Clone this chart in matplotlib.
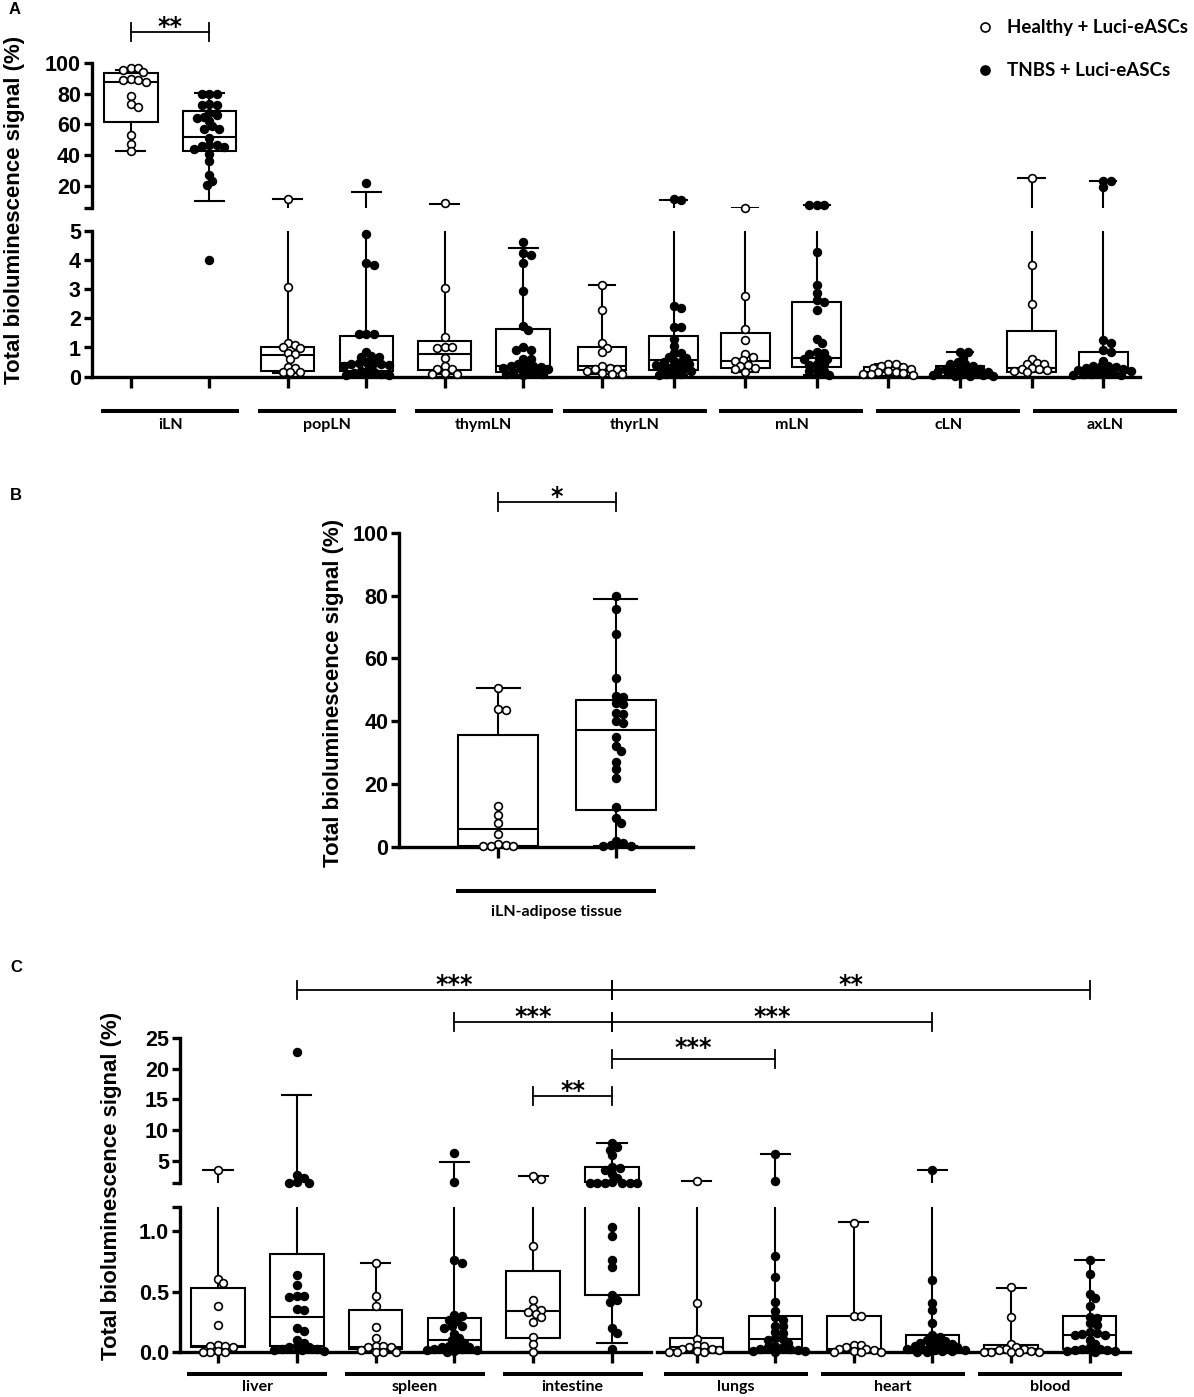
import numpy as np
import matplotlib
matplotlib.use('Agg')
import matplotlib.pyplot as plt
from matplotlib.lines import Line2D

plt.rcParams['font.family'] = ['Liberation Sans', 'DejaVu Sans']

# ---------------- data ----------------
# box stats: [whisker low, q1, median, q3, whisker high]
A_groups = ['iLN', 'popLN', 'thymLN', 'thyrLN', 'mLN', 'cLN', 'axLN']
A_healthy = [
    [96.7, 96.7, 95.5, 94.5, 90, 89, 89, 88, 78.7, 73.3, 71.3, 53.3, 47.4, 42.4],
    [11.3, 3.06, 1.14, 1.1, 1.0, 0.97, 0.8, 0.78, 0.6, 0.34, 0.3, 0.17, 0.15, 0.15],
    [8.5, 3.05, 1.35, 1.0, 1.0, 0.97, 0.65, 0.35, 0.28, 0.25, 0.12, 0.1, 0.1],
    [3.14, 2.28, 1.15, 0.98, 0.85, 0.35, 0.3, 0.27, 0.25, 0.2, 0.12, 0.1, 0.1],
    [5.6, 2.76, 1.65, 1.25, 0.77, 0.68, 0.58, 0.55, 0.4, 0.37, 0.3, 0.25, 0.15],
    [0.42, 0.42, 0.35, 0.33, 0.3, 0.25, 0.2, 0.15, 0.15, 0.12, 0.1, 0.08, 0.05],
    [24.8, 3.82, 2.49, 0.62, 0.46, 0.45, 0.42, 0.3, 0.28, 0.25, 0.22, 0.18, 0.15],
]
A_tnbs = [
    [80, 80, 80, 73.5, 73, 72.8, 67.4, 66, 64.8, 64, 62.6, 59, 57.2, 57, 51, 46.7,
     46.7, 46, 45, 44, 41, 36.3, 26.7, 22.8, 20.2, 4.0],
    [22, 4.9, 3.88, 3.82, 1.45, 1.45, 1.45, 0.86, 0.7, 0.68, 0.66, 0.5, 0.48, 0.46,
     0.45, 0.42, 0.4, 0.38, 0.3, 0.2, 0.15, 0.12, 0.1, 0.08, 0.06, 0.05],
    [4.6, 4.22, 4.17, 3.9, 2.95, 1.75, 1.6, 1.0, 0.92, 0.9, 0.62, 0.6, 0.45, 0.4,
     0.38, 0.35, 0.33, 0.3, 0.28, 0.25, 0.2, 0.15, 0.12, 0.1, 0.08, 0.05],
    [11, 10.5, 2.42, 2.34, 1.71, 1.71, 1.3, 1.05, 0.82, 0.8, 0.68, 0.65, 0.55, 0.52,
     0.5, 0.45, 0.4, 0.35, 0.3, 0.28, 0.25, 0.2, 0.15, 0.1, 0.08, 0.05],
    [7.4, 7.4, 7.3, 4.26, 3.14, 2.85, 2.62, 2.55, 2.3, 1.3, 1.17, 0.85, 0.82, 0.78,
     0.65, 0.62, 0.6, 0.45, 0.42, 0.4, 0.22, 0.2, 0.18, 0.05],
    [0.85, 0.83, 0.65, 0.5, 0.45, 0.42, 0.35, 0.3, 0.28, 0.25, 0.22, 0.2, 0.18, 0.15,
     0.12, 0.1, 0.08, 0.06, 0.05, 0.04, 0.03, 0.02],
    [23.3, 23.0, 19.0, 1.25, 1.15, 0.9, 0.85, 0.55, 0.38, 0.36, 0.35, 0.33, 0.3, 0.25,
     0.22, 0.2, 0.18, 0.15, 0.12, 0.1, 0.08, 0.06, 0.05],
]
A_healthy_box = [[42.4, 61.3, 87.6, 93.5, 95.7], [0.12, 0.21, 0.74, 1.03, 11.3],
                 [0.1, 0.23, 0.78, 1.23, 8.0], [0.1, 0.23, 0.35, 1.03, 3.14],
                 [0.15, 0.29, 0.54, 1.48, 5.6], [0.02, 0.03, 0.15, 0.34, 0.42],
                 [0.15, 0.17, 0.3, 1.56, 24.8]]
A_tnbs_box = [[9.8, 42.4, 51.7, 68.5, 80.4], [0.05, 0.2, 0.46, 1.4, 16.1],
              [0.05, 0.15, 0.38, 1.62, 4.41], [0.05, 0.23, 0.57, 1.4, 10.7],
              [0.05, 0.32, 0.63, 2.57, 7.4], [0.02, 0.03, 0.17, 0.37, 0.83],
              [0.05, 0.11, 0.23, 0.83, 23.3]]

B_group = 'iLN-adipose tissue'
B_healthy = [50.5, 43.7, 43.5, 13.1, 10.1, 7.4, 3.9, 0.8, 0.5, 0.3, 0.2, 0.1]
B_tnbs = [80.0, 75.7, 67.7, 53.6, 48.1, 47.8, 45.9, 45.6, 42.5, 42.3, 40.1, 39.3, 34.8,
          32.2, 30.6, 26.9, 24.7, 21.8, 12.5, 9.0, 7.4, 1.9, 1.1, 0.5, 0.3, 0.2]
B_healthy_box = [0.1, 0.2, 5.6, 35.6, 50.4]
B_tnbs_box = [0.2, 11.7, 37.3, 46.8, 78.8]

C_groups = ['liver', 'spleen', 'intestine', 'lungs', 'heart', 'blood']
C_healthy = [
    [3.4, 0.61, 0.57, 0.38, 0.23, 0.06, 0.05, 0.05, 0.04, 0.01, 0.0, 0.0, 0.0],
    [0.74, 0.47, 0.38, 0.21, 0.12, 0.05, 0.05, 0.04, 0.04, 0.02, 0.0, 0.0, 0.0],
    [2.45, 2.0, 0.88, 0.43, 0.37, 0.35, 0.33, 0.32, 0.29, 0.25, 0.13, 0.07, 0.0],
    [1.73, 0.41, 0.11, 0.06, 0.05, 0.04, 0.03, 0.03, 0.02, 0.01, 0.0, 0.0, 0.0],
    [1.07, 0.3, 0.3, 0.06, 0.06, 0.04, 0.03, 0.03, 0.02, 0.01, 0.0, 0.0, 0.0],
    [0.54, 0.29, 0.07, 0.04, 0.03, 0.03, 0.02, 0.01, 0.0, 0.0, 0.0, 0.0, 0.0],
]
C_tnbs = [
    [22.8, 2.66, 2.2, 1.46, 1.35, 1.32, 0.64, 0.56, 0.47, 0.47, 0.46, 0.36, 0.35, 0.2,
     0.18, 0.1, 0.08, 0.05, 0.04, 0.04, 0.03, 0.03, 0.02, 0.02, 0.01],
    [6.3, 1.5, 0.76, 0.74, 0.31, 0.3, 0.27, 0.26, 0.22, 0.22, 0.2, 0.15, 0.12, 0.1,
     0.08, 0.06, 0.05, 0.04, 0.04, 0.03, 0.03, 0.02, 0.02, 0.01, 0.0],
    [7.9, 7.2, 6.8, 5.9, 4.0, 3.8, 3.5, 2.8, 2.2, 1.5, 1.4, 1.38, 1.36, 1.35, 1.34,
     1.33, 1.04, 0.96, 0.76, 0.71, 0.475, 0.43, 0.42, 0.2, 0.16, 0.03],
    [6.0, 1.7, 0.8, 0.62, 0.42, 0.34, 0.29, 0.27, 0.22, 0.22, 0.17, 0.16, 0.12, 0.11,
     0.1, 0.08, 0.05, 0.04, 0.04, 0.03, 0.03, 0.02, 0.01, 0.01, 0.0],
    [3.47, 0.6, 0.41, 0.35, 0.24, 0.14, 0.13, 0.1, 0.09, 0.09, 0.08, 0.07, 0.06, 0.05,
     0.05, 0.04, 0.04, 0.03, 0.03, 0.02, 0.02, 0.01, 0.01, 0.0, 0.0],
    [0.76, 0.65, 0.48, 0.45, 0.38, 0.29, 0.28, 0.24, 0.23, 0.17, 0.16, 0.15, 0.14, 0.14,
     0.1, 0.07, 0.04, 0.03, 0.03, 0.02, 0.02, 0.01, 0.01, 0.0],
]
C_healthy_box = [[0.0, 0.04, 0.05, 0.536, 3.45], [0.0, 0.03, 0.04, 0.35, 0.74],
                 [0.0, 0.12, 0.34, 0.67, 2.45], [0.0, 0.02, 0.04, 0.116, 1.73],
                 [0.0, 0.02, 0.03, 0.3, 1.08], [0.0, 0.02, 0.03, 0.06, 0.536]]
C_tnbs_box = [[0.01, 0.05, 0.29, 0.81, 15.8], [0.0, 0.03, 0.1, 0.28, 4.73],
              [0.075, 0.475, 1.46, 4.0, 7.8], [0.0, 0.02, 0.11, 0.3, 6.1],
              [0.0, 0.02, 0.045, 0.14, 3.47], [0.0, 0.03, 0.14, 0.3, 0.765]]

legend_labels = ['Healthy + Luci-eASCs', 'TNBS + Luci-eASCs']
ylabel = 'Total bioluminescence signal (%)'

# ---------------- figure helpers (pixel layout, y from top) ----------------
W, H = 1194, 1397
fig = plt.figure(figsize=(W / 100, H / 100), dpi=100)
LW_AX = 2.4
LW_BOX = 1.5
TICK_FONT = dict(family=['Liberation Sans', 'DejaVu Sans'], weight='bold', size=15.5)
CAT_FONT = dict(family=['Lato', 'DejaVu Sans'], weight='bold', size=11.5)


def fx(px):
    return px / W


def fy(py):
    return 1 - py / H


def add_ax(x0, y0, x1, y1, xlim, ylim):
    ax = fig.add_axes([x0 / W, 1 - y1 / H, (x1 - x0) / W, (y1 - y0) / H])
    ax.patch.set_visible(False)
    for s in ax.spines.values():
        s.set_visible(False)
        s.set_linewidth(LW_AX)
    ax.set_xlim(xlim)
    ax.set_ylim(ylim)
    ax.set_xticks([])
    ax.set_yticks([])
    return ax


def left_axis(ax, ticks, labels):
    ax.spines['left'].set_visible(True)
    ax.set_yticks(ticks, labels)
    ax.tick_params(axis='y', length=6, width=LW_AX, pad=2)
    for t in ax.get_yticklabels():
        t.set_fontproperties(matplotlib.font_manager.FontProperties(**TICK_FONT))


def bottom_axis(ax, n):
    ax.spines['bottom'].set_visible(True)
    ax.set_xticks(range(n), [''] * n)
    ax.tick_params(axis='x', length=8, width=LW_AX)


def xpix(ax, pos):
    return ax.transData.transform((pos, 0))[0]


def swarm_offsets(ax, vals, diam=7.5, step=2.5, max_px=34):
    x0, x1 = ax.get_xlim()
    per_px = (x1 - x0) / ax.bbox.width
    cands = [0.0]
    k = 1
    while k * step <= max_px:
        cands += [k * step, -k * step]
        k += 1
    placed, offs = [], []
    for v in vals:
        y = ax.transData.transform((0, v))[1]
        best, bestd = 0.0, -1.0
        for c in cands:
            dmin = min((np.hypot(c - px, y - py) for px, py in placed), default=1e9)
            if dmin >= diam * 0.8:
                best = c
                break
            if dmin > bestd:
                best, bestd = c, dmin
        placed.append((best, y))
        offs.append(best * per_px)
    return np.array(offs)


def draw_box(axes, pos, vals, box, filled):
    st = [dict(whislo=box[0], q1=box[1], med=box[2], q3=box[3], whishi=box[4], fliers=[])]
    for ax in axes:
        lo, hi = ax.get_ylim()
        ax.bxp(st, positions=[pos], widths=0.68, capwidths=0.37, showfliers=False,
               patch_artist=True, manage_ticks=False, zorder=2,
               boxprops=dict(facecolor='white', edgecolor='black', linewidth=LW_BOX),
               medianprops=dict(color='black', linewidth=LW_BOX),
               whiskerprops=dict(color='black', linewidth=LW_BOX),
               capprops=dict(color='black', linewidth=LW_BOX))
        sel = [v for v in vals if lo <= v <= hi]
        if not sel:
            continue
        offs = swarm_offsets(ax, sel)
        ax.plot(offs + pos, sel, 'o', ls='none', ms=5.6,
                mfc='black' if filled else 'white', mec='black', mew=1.2,
                clip_on=False, zorder=3)


def category_bar(xc, half, yline, ylab, text):
    fig.add_artist(Line2D([fx(xc - half), fx(xc + half)], [fy(yline)] * 2,
                          transform=fig.transFigure, color='black', lw=2.9,
                          solid_capstyle='butt'))
    fig.text(fx(xc), fy(ylab), text, ha='center', va='center', **CAT_FONT)


def bracket(x1, x2, ybar, stars, star_gap=11):
    kw = dict(transform=fig.transFigure, color='black', lw=1.3)
    fig.add_artist(Line2D([fx(x1), fx(x2)], [fy(ybar)] * 2, **kw))
    for x in (x1, x2):
        fig.add_artist(Line2D([fx(x)] * 2, [fy(ybar - 9), fy(ybar + 9)], **kw))
    fig.text(fx((x1 + x2) / 2), fy(ybar - star_gap + 13), stars, ha='center',
             va='baseline', family='DejaVu Sans', weight='bold', size=17)


def pair_means(ax, n):
    return [(xpix(ax, 2 * i) + xpix(ax, 2 * i + 1)) / 2 for i in range(n)]


# ---------------- panel A ----------------
A_top = (63.3, 208.3)
A_bot = (230.7, 376.7)
A_brk = 5.2
aLT = add_ax(92, A_top[0], 563, A_top[1], (-0.497, 5.51), (A_brk, 100))
aLB = add_ax(92, A_bot[0], 563, A_bot[1], (-0.497, 5.51), (0, 5))
aRT = add_ax(566, A_top[0], 1140, A_top[1], (-0.503, 7.514), (A_brk, 100))
aRB = add_ax(566, A_bot[0], 1140, A_bot[1], (-0.503, 7.514), (0, 5))
left_axis(aLT, [A_brk, 20, 40, 60, 80, 100], ['', '20', '40', '60', '80', '100'])
left_axis(aLB, [0, 1, 2, 3, 4, 5], ['0', '1', '2', '3', '4', '5'])
bottom_axis(aLB, 6)
bottom_axis(aRB, 8)

for g in range(len(A_groups)):
    if g < 3:
        axes, base = (aLT, aLB), 2 * g
    else:
        axes, base = (aRT, aRB), 2 * (g - 3)
    draw_box(axes, base, A_healthy[g], A_healthy_box[g], False)
    draw_box(axes, base + 1, A_tnbs[g], A_tnbs_box[g], True)

for i, xc in enumerate(pair_means(aLB, 3)):
    category_bar(xc, 69, 411, 425, A_groups[i])
right_c = pair_means(aRB, 4)
for i, xc in enumerate(right_c):
    xc = right_c[0] + 1.094 * (xc - right_c[0]) - 3
    category_bar(xc, 72, 411, 425, A_groups[3 + i])

bracket(xpix(aLT, 0), xpix(aLT, 1), 31.7, '**')

fig.text(fx(15), fy(210), ylabel, rotation=90, ha='center', va='center',
         weight='bold', size=16)
fig.text(fx(15), fy(10), 'A', ha='center', va='center', weight='bold', size=12)

# legend
for k, (lab, yy) in enumerate(zip(legend_labels, (27, 70))):
    fig.add_artist(Line2D([fx(985)], [fy(yy)], transform=fig.transFigure, marker='o',
                          ls='none', ms=6.5, mfc='black' if k else 'white', mec='black',
                          mew=1.2))
    fig.text(fx(1007), fy(yy), lab, ha='left', va='center', family=['Lato', 'DejaVu Sans'],
             weight='bold', size=13.5)

# ---------------- panel B ----------------
bAx = add_ax(399.3, 532.7, 692.7, 846.7, (-0.843, 1.656), (0, 100))
left_axis(bAx, [0, 20, 40, 60, 80, 100], ['0', '20', '40', '60', '80', '100'])
bottom_axis(bAx, 2)
draw_box([bAx], 0, B_healthy, B_healthy_box, False)
draw_box([bAx], 1, B_tnbs, B_tnbs_box, True)
category_bar(556, 100, 891, 911.7, B_group)
bracket(xpix(bAx, 0), xpix(bAx, 1), 501.7, '*')
fig.text(fx(333), fy(692.5), ylabel, rotation=90, ha='center', va='center',
         weight='bold', size=16)
fig.text(fx(16), fy(495), 'B', ha='center', va='center', weight='bold', size=12)

# ---------------- panel C ----------------
C_top = (1038.3, 1183.3)
C_bot = (1207.3, 1352.3)
C_brk = 1.29
cLT = add_ax(180, C_top[0], 650.7, C_top[1], (-0.482, 5.49), (C_brk, 25))
cLB = add_ax(180, C_bot[0], 650.7, C_bot[1], (-0.482, 5.49), (0, 1.2))
cRT = add_ax(656.7, C_top[0], 1130, C_top[1], (-0.509, 5.513), (C_brk, 25))
cRB = add_ax(656.7, C_bot[0], 1130, C_bot[1], (-0.509, 5.513), (0, 1.2))
left_axis(cLT, [C_brk, 5, 10, 15, 20, 25], ['', '5', '10', '15', '20', '25'])
left_axis(cLB, [0, 0.5, 1.0, 1.2], ['0.0', '0.5', '1.0', ''])
bottom_axis(cLB, 6)
bottom_axis(cRB, 6)

for g in range(len(C_groups)):
    if g < 3:
        axes, base = (cLT, cLB), 2 * g
    else:
        axes, base = (cRT, cRB), 2 * (g - 3)
    draw_box(axes, base, C_healthy[g], C_healthy_box[g], False)
    draw_box(axes, base + 1, C_tnbs[g], C_tnbs_box[g], True)

for i, xc in enumerate(pair_means(cLB, 3)):
    category_bar(xc, 70, 1374, 1386.7, C_groups[i])
for i, xc in enumerate(pair_means(cRB, 3)):
    category_bar(xc, 72, 1374, 1386.7, C_groups[3 + i])

x_int_t = xpix(cLT, 5)
bracket(xpix(cLT, 1), x_int_t, 990, '***')
bracket(x_int_t, xpix(cRT, 5), 990, '**')
bracket(xpix(cLT, 3), x_int_t, 1022, '***')
bracket(x_int_t, xpix(cRT, 3), 1022, '***')
bracket(x_int_t, xpix(cRT, 1), 1059, '***', star_gap=17)
bracket(xpix(cLT, 4), x_int_t, 1095.7, '**')

fig.text(fx(112), fy(1186), ylabel, rotation=90, ha='center', va='center',
         weight='bold', size=16)
fig.text(fx(16), fy(968), 'C', ha='center', va='center', weight='bold', size=12)

fig.savefig('out.png', dpi=100)
